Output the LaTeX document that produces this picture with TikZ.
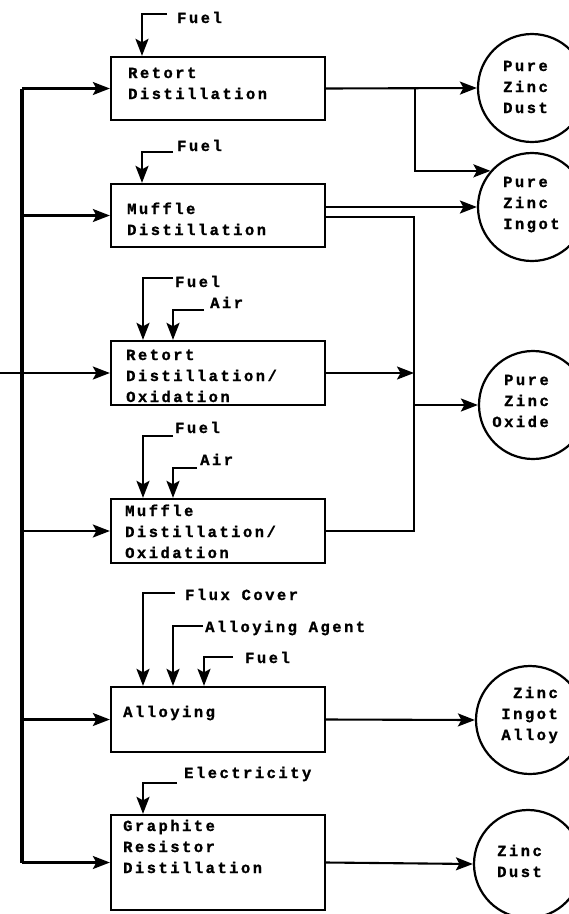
\documentclass[tikz,border=0pt]{standalone}
\usepackage{fontspec}
\newfontfamily\dm{Liberation Mono}[LetterSpace=16, UprightFont=*, BoldFont=* Bold, BoldFeatures={FakeBold=1.2}]
\usetikzlibrary{arrows.meta,calc}
\begin{document}
\begin{tikzpicture}[x=1pt,y=-1pt,
  box/.style={draw, line width=2.3pt, minimum width=214pt, minimum height=#1, inner sep=0pt},
  circ/.style={draw, circle, line width=2.2pt, minimum size=108pt, inner sep=0pt},
  lbl/.style={font=\dm\bfseries\fontsize{15.5}{21}\selectfont, inner sep=0pt, anchor=base west, align=left},
  rlbl/.style={font=\dm\bfseries\fontsize{15.5}{21}\selectfont, inner sep=0pt, anchor=base east, align=right},
  conn/.style={line width=2.1pt},
  arr/.style={conn, -{Stealth[length=17pt,width=13pt,inset=3.5pt]}},
  bus/.style={line width=3.2pt}]
\useasboundingbox (0,0) rectangle (569,914);
% boxes
\node[box=63pt] (b1) at (218,88.5) {};
\node[box=63pt] (b2) at (218,215.5) {};
\node[box=64pt] (b3) at (218,373) {};
\node[box=64pt] (b4) at (218,531) {};
\node[box=65pt] (b5) at (218,719.5) {};
\node[box=95pt] (b6) at (218,862.5) {};
\node[lbl] (t1) at (128,99) {Retort\\Distillation};
\node[lbl] (t2) at (127,235) {Muffle\\Distillation};
\node[lbl] (t3) at (126,402) {Retort\\Distillation/\\Oxidation};
\node[lbl] (t4) at (125,558) {Muffle\\Distillation/\\Oxidation};
\node[lbl] (t5) at (123,717) {Alloying};
\node[lbl] (t6) at (123,873) {Graphite\\Resistor\\Distillation};
% circles
\node[circ] (c1) at (532,88) {};
\node[circ] (c2) at (532,207) {};
\node[circ] (c3) at (533,405) {};
\node[circ] (c4) at (530,720) {};
\node[circ] (c5) at (528,864) {};
\node[lbl] (ct1) at (503,113) {Pure\\Zinc\\Dust};
\node[lbl] (ct2) at (503,229) {Pure\\Zinc\\Ingot};
\node[rlbl] (ct3) at (549,427) {Pure\\Zinc\\Oxide};
\node[rlbl] (ct4) at (558,740) {Zinc\\Ingot\\Alloy};
\node[lbl] (ct5) at (497,877) {Zinc\\Dust};
% left bus
\coordinate (bx) at (22,0);
\coordinate (src) at (0,373);
\draw[bus] (bx |- b1.west) -- (bx |- b6.west);
\draw[conn] (src) -- (bx |- b3.west);
\foreach \b in {b1,b2,b3,b4,b5,b6} \draw[arr] (bx |- \b.west) -- (\b.west);
% right side
\coordinate (j1) at (415,88.5);
\draw[arr] (b1.east) -- (c1.west);
\draw[arr] (j1) |- (c2.139);
\draw[arr] ($(b2.east)+(0,-8.5)$) -- (c2.west);
\coordinate (m2) at (414,217);
\coordinate (m4) at (414,531);
\coordinate (m3) at (414,373);
\coordinate (m5) at (414,405);
\draw[conn] ($(b2.east)+(0,1.5)$) -- (m2) -- (m4) -- (b4.east);
\draw[arr] (b3.east) -- (m3);
\draw[arr] (m5) -- (c3.west);
\draw[arr] (b5.east) -- (c4.west);
\draw[arr] (b6.east) -- (c5.west);
% inputs
\node[lbl] (lf1) at (177,23) {Fuel};
\coordinate (s1) at (167,14); \coordinate (k1) at (142,14);
\draw[arr] (s1) -- (k1) -- (k1 |- b1.north);
\node[lbl] (lf2) at (177,151) {Fuel};
\coordinate (s2) at (173,152); \coordinate (k2) at (142,152);
\draw[arr] (s2) -- (k2) -- (k2 |- b2.north);
\node[lbl] (lf3) at (175,287) {Fuel};
\coordinate (s3) at (173,278); \coordinate (k3) at (143,278);
\draw[arr] (s3) -- (k3) -- (k3 |- b3.north);
\node[lbl] (la3) at (210,308) {Air};
\coordinate (sa3) at (204,310); \coordinate (ka3) at (173,310);
\draw[arr] (sa3) -- (ka3) -- (ka3 |- b3.north);
\node[lbl] (lf4) at (175,433) {Fuel};
\coordinate (s4) at (173,436); \coordinate (k4) at (143,436);
\draw[arr] (s4) -- (k4) -- (k4 |- b4.north);
\node[lbl] (la4) at (200,465) {Air};
\coordinate (sa4) at (197,468); \coordinate (ka4) at (173,468);
\draw[arr] (sa4) -- (ka4) -- (ka4 |- b4.north);
\node[lbl] (lfx) at (185,600) {Flux Cover};
\coordinate (sx) at (175,593); \coordinate (kx) at (143,593);
\draw[arr] (sx) -- (kx) -- (kx |- b5.north);
\node[lbl] (lag) at (205,632) {Alloying Agent};
\coordinate (sg) at (203,626); \coordinate (kg) at (173,626);
\draw[arr] (sg) -- (kg) -- (kg |- b5.north);
\node[lbl] (lf5) at (245,663) {Fuel};
\coordinate (s5) at (233,657); \coordinate (k5) at (204,657);
\draw[arr] (s5) -- (k5) -- (k5 |- b5.north);
\node[lbl] (lel) at (184,778) {Electricity};
\coordinate (se) at (177,783); \coordinate (ke) at (143,783);
\draw[arr] (se) -- (ke) -- (ke |- b6.north);
\end{tikzpicture}
\end{document}
